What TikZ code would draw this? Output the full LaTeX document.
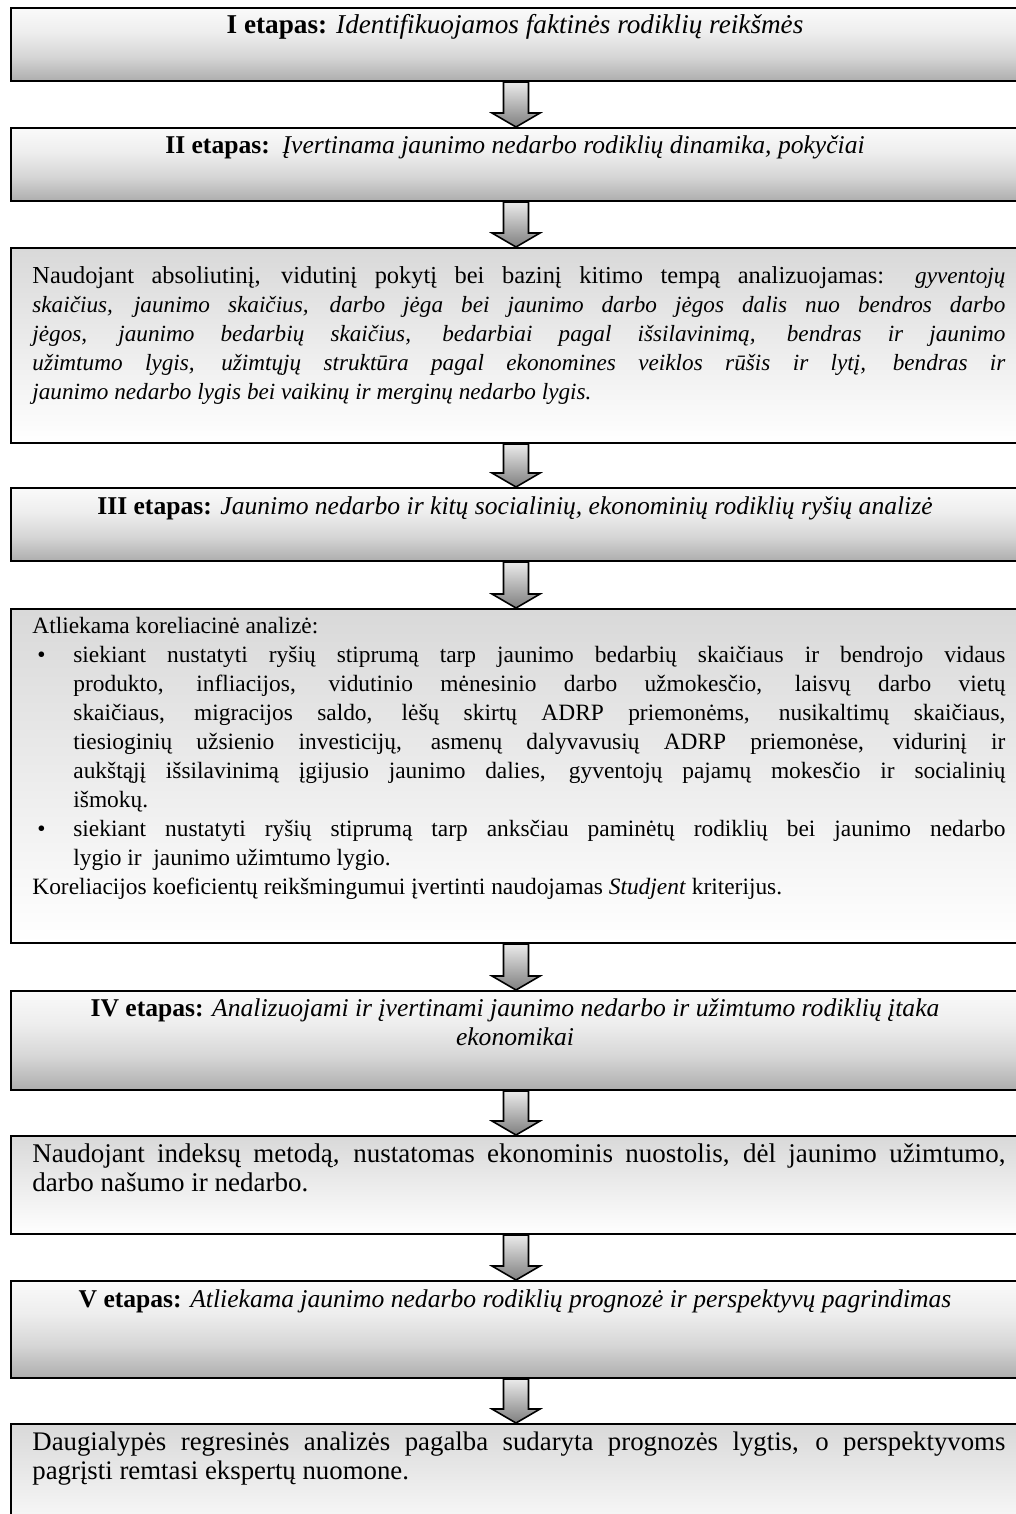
\documentclass[tikz,border=0pt]{standalone}
\usepackage{fontspec}
\setmainfont{Liberation Serif}
\usetikzlibrary{calc}
\pgfdeclareverticalshading{stageshade}{100bp}{color(0bp)=(black!32); color(25bp)=(black!32); color(42bp)=(black!16); color(58bp)=(black!7); color(75bp)=(black!2); color(100bp)=(black!2)}
\newcommand\flowarrow[2]{%
  \path[arrowshape] ($(#1.south)+(-12.5,0)$) -- ($(#2.north)+(-12.5,14)$) -- ($(#2.north)+(-24,14)$) -- (#2.north) -- ($(#2.north)+(24,14)$) -- ($(#2.north)+(12.5,14)$) -- ($(#1.south)+(12.5,0)$) -- cycle;}
\newcommand\fsz[1]{\fontsize{#1}{14.5}\selectfont}
\hyphenpenalty=10000
\exhyphenpenalty=10000
\tolerance=10000
\begin{document}
\parindent=0pt
\begin{tikzpicture}[x=0.5pt,y=0.5pt,
  stagebox/.style={draw=black, line width=1pt, shade, shading=stageshade, minimum width=505pt, anchor=north west, inner sep=0pt},
  textbox/.style={draw=black, line width=1pt, top color=black!15, bottom color=white, minimum width=505pt, anchor=north west, inner sep=0pt},
  stagetxt/.style={anchor=north, inner sep=0pt, text width=486.5pt, align=flush center},
  bodytxt/.style={anchor=north west, inner sep=0pt, text width=486.5pt, align=justify},
  arrowshape/.style={draw=black, line width=0.8pt, top color=black!8, bottom color=black!50, line join=miter}
]
\useasboundingbox (0,0) rectangle (1016,-1514);
\clip (0,0) rectangle (1016,-1514);
\fill[white] (0,0) rectangle (1016,-1514);

% boxes
\node[stagebox, minimum height=36.5pt] (b1) at (10,-7) {};
\node[stagebox, minimum height=36.5pt] (b2) at (10,-127) {};
\node[textbox, minimum height=97.5pt] (b3) at (10,-247) {};
\node[stagebox, minimum height=36.5pt] (b4) at (10,-487) {};
\node[textbox, minimum height=167pt] (b5) at (10,-608) {};
\node[stagebox, minimum height=49.5pt] (b6) at (10,-990) {};
\node[textbox, minimum height=49pt] (b7) at (10,-1135) {};
\node[stagebox, minimum height=48.5pt] (b8) at (10,-1280) {};
\node[textbox, minimum height=60pt] (b9) at (10,-1423) {};

% arrows
\flowarrow{b1}{b2}
\flowarrow{b2}{b3}
\flowarrow{b3}{b4}
\flowarrow{b4}{b5}
\flowarrow{b5}{b6}
\flowarrow{b6}{b7}
\flowarrow{b7}{b8}
\flowarrow{b8}{b9}

% texts
\node[stagetxt, font=\fsz{13.6}] (t1) at (515,-13) {\strut\textbf{I etapas:} \textit{Identifikuojamos faktinės rodiklių reikšmės}};
\node[stagetxt, font=\fsz{12.8}] (t2) at (515,-133) {\strut\textbf{II etapas:}\ \ \textit{Įvertinama jaunimo nedarbo rodiklių dinamika, pokyčiai}};
\node[bodytxt, font=\fsz{12.2}] (t3) at (32,-263) {\strut Naudojant absoliutinį, vidutinį pokytį bei bazinį kitimo tempą analizuojamas: {\fsz{11.6}\itshape gyventojų\linebreak
skaičius, jaunimo skaičius, darbo jėga bei jaunimo darbo jėgos dalis nuo bendros darbo\linebreak
jėgos, jaunimo bedarbių skaičius, bedarbiai pagal išsilavinimą, bendras ir jaunimo\linebreak
užimtumo lygis, užimtųjų struktūra pagal ekonomines veiklos rūšis ir lytį, bendras ir\linebreak
jaunimo nedarbo lygis bei vaikinų ir merginų nedarbo lygis.}};
\node[stagetxt, font=\fsz{12.8}] (t4) at (515,-494) {\strut\textbf{III etapas:} \textit{Jaunimo nedarbo ir kitų socialinių, ekonominių rodiklių ryšių analizė}};
\node[bodytxt, font=\fsz{11.7}] (t5) at (32,-613) {\strut Atliekama koreliacinė analizė:\par
{\leftskip=20.5pt\noindent\llap{\makebox[18pt][l]{\textbullet}}siekiant nustatyti ryšių stiprumą tarp jaunimo bedarbių skaičiaus ir bendrojo vidaus\linebreak
produkto, infliacijos, vidutinio mėnesinio darbo užmokesčio, laisvų darbo vietų\linebreak
skaičiaus, migracijos saldo, lėšų skirtų ADRP priemonėms, nusikaltimų skaičiaus,\linebreak
tiesioginių užsienio investicijų, asmenų dalyvavusių ADRP priemonėse, vidurinį ir\linebreak
aukštąjį išsilavinimą įgijusio jaunimo dalies, gyventojų pajamų mokesčio ir socialinių\linebreak
išmokų.\par}
{\leftskip=20.5pt\noindent\llap{\makebox[18pt][l]{\textbullet}}siekiant nustatyti ryšių stiprumą tarp anksčiau paminėtų rodiklių bei jaunimo nedarbo\linebreak
lygio ir \ jaunimo užimtumo lygio.\par}
\noindent Koreliacijos koeficientų reikšmingumui įvertinti naudojamas \textit{Studjent} kriterijus.};
\node[stagetxt, font=\fsz{12.8}] (t6) at (515,-996) {\strut\textbf{IV etapas:} \textit{Analizuojami ir įvertinami jaunimo nedarbo ir užimtumo rodiklių įtaka}\\ \textit{ekonomikai}};
\node[bodytxt, font=\fsz{13.5}] (t7) at (32,-1142) {\strut Naudojant indeksų metodą, nustatomas ekonominis nuostolis, dėl jaunimo užimtumo,\linebreak
darbo našumo ir nedarbo.};
\node[stagetxt, font=\fsz{12.8}] (t8) at (515,-1287) {\strut\textbf{V etapas:} \textit{Atliekama jaunimo nedarbo rodiklių prognozė ir perspektyvų pagrindimas}};
\node[bodytxt, font=\fsz{13.4}] (t9) at (32,-1430) {\strut Daugialypės regresinės analizės pagalba sudaryta prognozės lygtis, o perspektyvoms\linebreak
pagrįsti remtasi ekspertų nuomone.};
\end{tikzpicture}
\end{document}
